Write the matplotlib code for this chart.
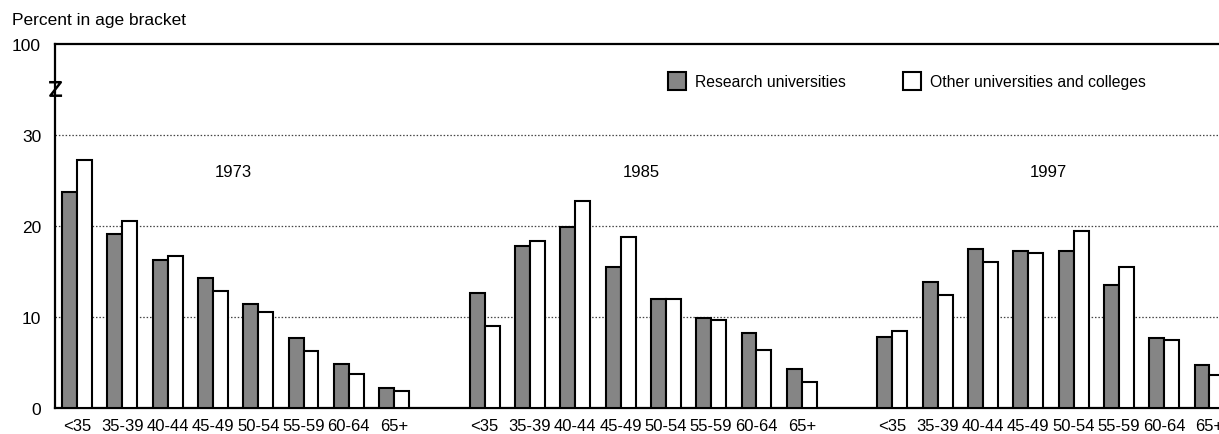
import numpy as np
import matplotlib
matplotlib.use("Agg")
import matplotlib.pyplot as plt
from matplotlib.lines import Line2D

# age brackets and survey years
ages = ["<35", "35-39", "40-44", "45-49", "50-54", "55-59", "60-64", "65+"]
years = ["1973", "1985", "1997"]

# percent of faculty in each age bracket
research_1973 = [23.7, 19.1, 16.3, 14.3, 11.4, 7.7, 4.8, 2.2]
other_1973 = [27.2, 20.6, 16.7, 12.9, 10.6, 6.3, 3.7, 1.9]
research_1985 = [12.6, 17.8, 19.9, 15.5, 12.0, 9.9, 8.2, 4.3]
other_1985 = [9.0, 18.4, 22.8, 18.8, 12.0, 9.7, 6.4, 2.9]
research_1997 = [7.8, 13.9, 17.5, 17.3, 17.2, 13.5, 7.7, 4.7]
other_1997 = [8.5, 12.4, 16.0, 17.0, 19.4, 15.5, 7.5, 3.6]

research = [research_1973, research_1985, research_1997]
other = [other_1973, other_1985, other_1997]

# y axis: 0-30 linear, then a break and 100 at the top
y_ticks = [0, 10, 20, 30, 40]
y_labels = ["0", "10", "20", "30", "100"]

plt.rcParams["font.family"] = ["Liberation Sans", "DejaVu Sans"]

fig = plt.figure(figsize=(12.19, 4.35), dpi=100)
ax = fig.add_axes([55 / 1219, 1 - 409 / 435, 1 - 55 / 1219, (409 - 45) / 435])

dark = "#858585"
bw = 0.33
gap = len(ages) + 1

for g, yr in enumerate(years):
    pos = np.arange(len(ages)) + g * gap
    ax.bar(pos - bw / 2, research[g], width=bw, color=dark, edgecolor="black",
           linewidth=1.5, zorder=3, label="Research universities" if g == 0 else None)
    ax.bar(pos + bw / 2, other[g], width=bw, color="white", edgecolor="black",
           linewidth=1.5, zorder=3, label="Other universities and colleges" if g == 0 else None)
    ax.text(pos.mean() - 0.05, 26, yr, ha="center", va="center", fontsize=12)

all_pos = np.concatenate([np.arange(len(ages)) + g * gap for g in range(len(years))])
ax.set_xticks(all_pos)
ax.set_xticklabels(ages * len(years), fontsize=12)
ax.tick_params(axis="x", length=0, pad=7)

ax.set_yticks(y_ticks)
ax.set_yticklabels(y_labels, fontsize=12.5)
ax.tick_params(axis="y", length=0, pad=10)

ax.set_xlim(-0.486, 25.21)
ax.set_ylim(0, 40)

for yv in [10, 20, 30]:
    ax.axhline(yv, color="#444444", linestyle=(0, (1.2, 1.5)), linewidth=0.9, zorder=1)

for side in ["left", "bottom", "top"]:
    ax.spines[side].set_linewidth(1.6)
ax.spines["right"].set_visible(False)

# axis break mark on the left spine
zx = [-0.004, 0.005, -0.004, 0.005]
zy = [0.895, 0.895, 0.858, 0.858]
ax.add_line(Line2D(zx, zy, transform=ax.transAxes, color="black", linewidth=1.8,
                   clip_on=False, zorder=5))

fig.text(12 / 1219, 1 - 20 / 435, "Percent in age bracket", ha="left", va="center",
         fontsize=12.5)

ax.legend(loc="center left", bbox_to_anchor=(668 / 1219, 1 - 82 / 435),
          bbox_transform=fig.transFigure, ncol=2, frameon=False, fontsize=11.3,
          handlelength=1.15, handleheight=1.3, handletextpad=0.6,
          columnspacing=3.6, borderpad=0, borderaxespad=0)

fig.savefig("out.png", dpi=100)
